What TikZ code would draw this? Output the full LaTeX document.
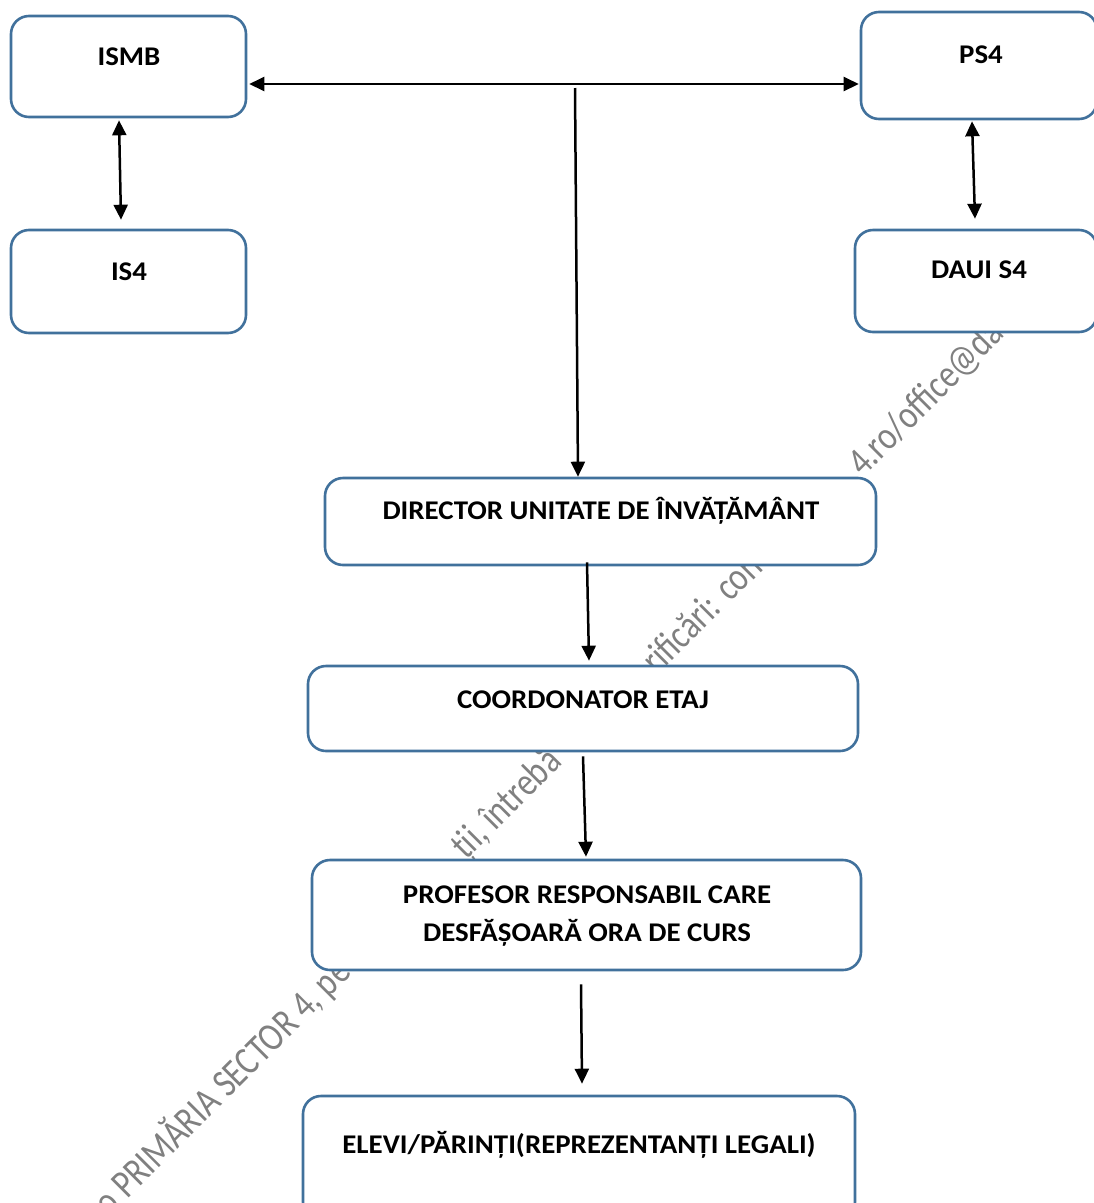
\documentclass[tikz,border=0pt]{standalone}
\usepackage{fontspec}
\setmainfont{Carlito}
\newfontfamily\lblfont[FakeStretch=1.07]{Carlito}
\newfontfamily\wmfont[FakeStretch=0.82]{Carlito}
\usetikzlibrary{arrows.meta}
\definecolor{boxblue}{RGB}{65,113,156}
\tikzset{
  box/.style={draw=boxblue, line width=2.6pt, rounded corners=18pt, fill=white, inner sep=0pt},
  lbl/.style={anchor=base, inner sep=0pt, font=\lblfont\bfseries\fontsize{27}{30}\selectfont, text=black},
  arr/.style={line width=2.5pt, -{Triangle[length=15pt,width=14pt]}},
  dbl/.style={line width=2.5pt, {Triangle[length=15pt,width=14pt]}-{Triangle[length=15pt,width=14pt]}},
  wm/.style={anchor=base west, inner sep=0pt, rotate=45, text=black!50, font=\wmfont\fontsize{40}{44}\selectfont}
}
\begin{document}
\begin{tikzpicture}[x=1pt,y=-1pt]
\useasboundingbox (0,0) rectangle (1094,1203);
% watermark fragments (beneath the boxes)
\node[wm] (wm1) at (109.7,1217.3) {o PRIMĂRIA SECTOR 4, pe};
\node[wm] (wm2) at (466,861) {ții, întrebă};
\node[wm] (wm3) at (657,676) {rificări: cont};
\node[wm] (wm4) at (863,478) {4.ro/office@daui};
% boxes
\node[box, minimum width=235pt, minimum height=101pt] (ismb) at (128.5,66.5) {};
\node[box, minimum width=235pt, minimum height=103pt] (is4) at (128.5,281.5) {};
\node[box, minimum width=236pt, minimum height=107pt] (ps4) at (979,65.5) {};
\node[box, minimum width=242pt, minimum height=102pt] (daui) at (976,281) {};
\node[box, minimum width=551pt, minimum height=87pt] (dir) at (600.5,521.5) {};
\node[box, minimum width=550pt, minimum height=85pt] (coord) at (583,708.5) {};
\node[box, minimum width=549pt, minimum height=110pt] (prof) at (586.5,915) {};
\node[box, minimum width=552pt, minimum height=124pt] (elevi) at (579,1158) {};
% labels
\node[lbl] (ismb-t) at (129,65) {ISMB};
\node[lbl] (is4-t) at (129,280) {IS4};
\node[lbl] (ps4-t) at (981,63) {PS4};
\node[lbl] (daui-t) at (979,278) {DAUI S4};
\node[lbl] (dir-t) at (601,519) {DIRECTOR UNITATE DE ÎNVĂȚĂMÂNT};
\node[lbl] (coord-t) at (583,708) {COORDONATOR ETAJ};
\node[lbl] (prof-t1) at (587,903) {PROFESOR RESPONSABIL CARE};
\node[lbl] (prof-t2) at (587,941) {DESFĂȘOARĂ ORA DE CURS};
\node[lbl] (elevi-t) at (579,1153) {ELEVI/PĂRINȚI(REPREZENTANȚI LEGALI)};
% connectors
\coordinate (top) at (575,88);
\draw[dbl] ([xshift=2pt,yshift=-17.5pt]ismb.east) -- ([xshift=-1pt,yshift=-18.5pt]ps4.west);
\draw[arr] (top) -- ([xshift=-22.5pt,yshift=0pt]dir.north);
\draw[dbl] ([xshift=-9.5pt,yshift=-2pt]ismb.south) -- ([xshift=-7.5pt,yshift=9pt]is4.north);
\draw[dbl] ([xshift=-7pt,yshift=-1pt]ps4.south) -- ([xshift=-1pt,yshift=10pt]daui.north);
\draw[arr] ([xshift=-13.5pt,yshift=4pt]dir.south) -- ([xshift=6pt,yshift=4pt]coord.north);
\draw[arr] ([xshift=0pt,yshift=-4pt]coord.south) -- ([xshift=-0.5pt,yshift=2pt]prof.north);
\draw[arr] ([xshift=-5.5pt,yshift=-13pt]prof.south) -- ([xshift=3pt,yshift=11pt]elevi.north);
\end{tikzpicture}
\end{document}
